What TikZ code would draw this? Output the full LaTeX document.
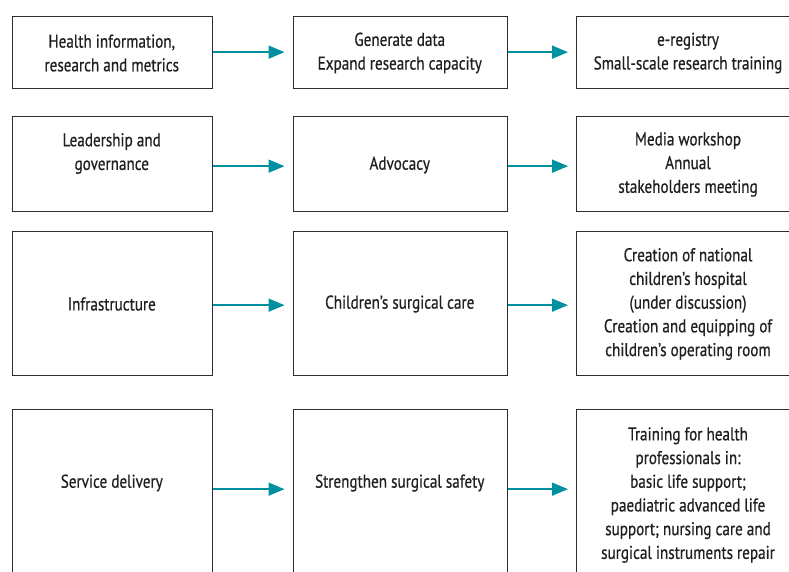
\documentclass[tikz,border=0pt]{standalone}
\usepackage{fontspec}
\setmainfont{PT Sans}[FakeStretch=0.82, FakeBold=0.6]
\usetikzlibrary{arrows.meta}
\definecolor{teal1}{RGB}{0,145,160}
\definecolor{boxline}{RGB}{45,45,45}
\definecolor{txtc}{RGB}{35,31,32}
\tikzset{
  boxst/.style={draw=boxline, line width=1.3pt, fill=white, inner sep=0pt, anchor=north west},
  txt/.style={align=center, text=txtc, font=\fontsize{18.5}{23.7}\selectfont, inner sep=0pt},
  arr/.style={draw=teal1, line width=1.6pt, -{Triangle[length=16pt,width=13pt]}, shorten >=8pt}
}
\begin{document}
\begin{tikzpicture}[x=1pt,y=-1pt]
\useasboundingbox (0,0) rectangle (789,571);
% boxes
\node[boxst, minimum width=199.5pt, minimum height=72pt] (a1) at (12,15.5) {};
\node[boxst, minimum width=214.5pt, minimum height=72pt] (b1) at (292.5,15.5) {};
\node[boxst, minimum width=224pt, minimum height=72pt] (c1) at (576,15.5) {};
\node[boxst, minimum width=199.5pt, minimum height=94.5pt] (a2) at (12,116) {};
\node[boxst, minimum width=214.5pt, minimum height=94.5pt] (b2) at (292.5,116) {};
\node[boxst, minimum width=224pt, minimum height=94.5pt] (c2) at (576,116) {};
\node[boxst, minimum width=199.5pt, minimum height=144.5pt] (a3) at (12,230.5) {};
\node[boxst, minimum width=214.5pt, minimum height=144.5pt] (b3) at (292.5,230.5) {};
\node[boxst, minimum width=224pt, minimum height=144.5pt] (c3) at (576,230.5) {};
\node[boxst, minimum width=199.5pt, minimum height=180pt] (a4) at (12,409) {};
\node[boxst, minimum width=214.5pt, minimum height=180pt] (b4) at (292.5,409) {};
\node[boxst, minimum width=224pt, minimum height=180pt] (c4) at (576,409) {};
% texts
\node[txt] (ta1) at (111.75,53) {Health information,\\research and metrics};
\node[txt] (tb1) at (399.75,53) {Generate data\\Expand research capacity};
\node[txt] (tc1) at (688,53) {e-registry\\Small-scale research training};
\node[txt] (ta2) at (111.75,153.5) {Leadership and\\governance};
\node[txt] (tb2) at (399.75,165) {Advocacy};
\node[txt] (tc2) at (688,164.5) {Media workshop\\Annual\\stakeholders meeting};
\node[txt] (ta3) at (111.75,304) {Infrastructure};
\node[txt] (tb3) at (399.75,304) {Children’s surgical care};
\node[txt] (tc3) at (688,304) {Creation of national\\children’s hospital\\(under discussion)\\Creation and equipping of\\children’s operating room};
\node[txt] (ta4) at (111.75,483) {Service delivery};
\node[txt] (tb4) at (399.75,483) {Strengthen surgical safety};
\node[txt] (tc4) at (688,495) {Training for health\\professionals in:\\basic life support;\\paediatric advanced life\\support; nursing care and\\surgical instruments repair};
% arrows
\draw[arr] (a1.east) -- (b1.west);
\draw[arr] (b1.east) -- (c1.west);
\draw[arr] ([yshift=-2.25pt]a2.east) -- ([yshift=-2.25pt]b2.west);
\draw[arr] ([yshift=-2.25pt]b2.east) -- ([yshift=-2.25pt]c2.west);
\draw[arr] ([yshift=-1.75pt]a3.east) -- ([yshift=-1.75pt]b3.west);
\draw[arr] ([yshift=-1.75pt]b3.east) -- ([yshift=-1.75pt]c3.west);
\draw[arr] ([yshift=10.5pt]a4.east) -- ([yshift=10.5pt]b4.west);
\draw[arr] ([yshift=10.5pt]b4.east) -- ([yshift=10.5pt]c4.west);
\end{tikzpicture}
\end{document}
